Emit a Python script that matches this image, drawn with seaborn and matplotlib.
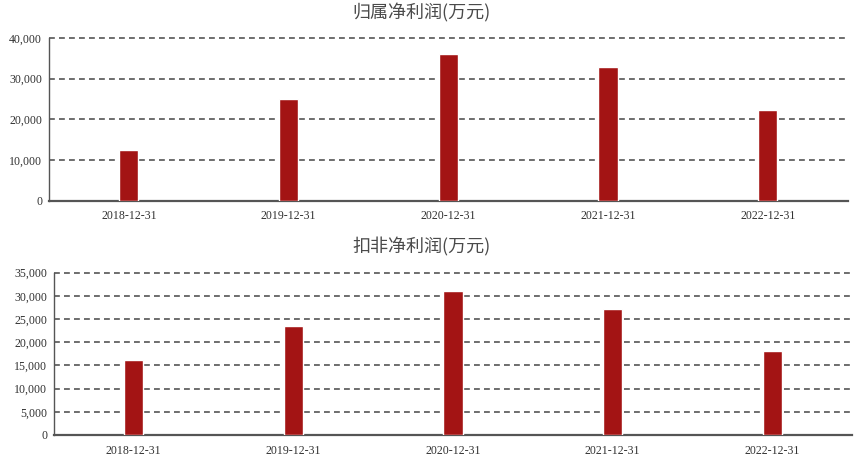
import numpy as np
import pandas as pd
import seaborn as sns
from matplotlib import pyplot as plt
from matplotlib.ticker import FuncFormatter, MultipleLocator

# datos (万元)
dates = ["2018-12-31", "2019-12-31", "2020-12-31", "2021-12-31", "2022-12-31"]
net_profit = [12400, 24900, 36000, 32900, 22300]
net_profit_deducted = [16100, 23400, 31000, 27200, 18200]
titles = ["归属净利润(万元)", "扣非净利润(万元)"]

sns.set_style("white")
plt.rcParams['font.family'] = ['Noto Sans CJK SC', 'DejaVu Sans']

bar_color = "#A31414"
grid_color = "#555555"

fig = plt.figure(figsize=(8.65, 4.61), dpi=100)
ax1 = fig.add_axes([0.0566, 0.5646, 0.9234, 0.3530])
ax2 = fig.add_axes([0.0624, 0.0564, 0.9226, 0.3521])


def draw(ax, values, ymax, step, title, title_y):
    df = pd.DataFrame({"date": dates, "value": values})
    sns.barplot(data=df, x="date", y="value", color=bar_color, width=0.12,
                saturation=1, ax=ax, zorder=3)
    ax.set_ylim(0, ymax)
    ax.set_xlim(-0.5, 4.5)
    ax.yaxis.set_major_locator(MultipleLocator(step))
    ax.yaxis.set_major_formatter(FuncFormatter(lambda v, p: f"{int(v):,}"))
    ax.grid(axis="y", color=grid_color, linestyle=(0, (3.5, 2.5)), linewidth=1.2, zorder=1)
    for gl in ax.get_ygridlines():
        gl.set_clip_on(False)
    ax.set_axisbelow(True)
    for s in ["top", "right"]:
        ax.spines[s].set_visible(False)
    ax.spines["left"].set_color(grid_color)
    ax.spines["left"].set_linewidth(1.0)
    ax.spines["bottom"].set_color(grid_color)
    ax.spines["bottom"].set_linewidth(1.6)
    ax.set_xlabel("")
    ax.set_ylabel("")
    ax.tick_params(axis="both", length=0, labelsize=8.6, colors="#333333")
    ax.tick_params(axis="x", pad=7)
    ax.tick_params(axis="y", pad=5)
    for lbl in ax.get_xticklabels() + ax.get_yticklabels():
        lbl.set_family(['Liberation Serif', 'DejaVu Serif'])
    fig.text(0.487, title_y, title, ha="center", va="center", fontsize=13, color="#4a4a4a")


draw(ax1, net_profit, 40000, 10000, titles[0], 0.973)
draw(ax2, net_profit_deducted, 35000, 5000, titles[1], 0.465)

fig.savefig("out.png", dpi=100)
